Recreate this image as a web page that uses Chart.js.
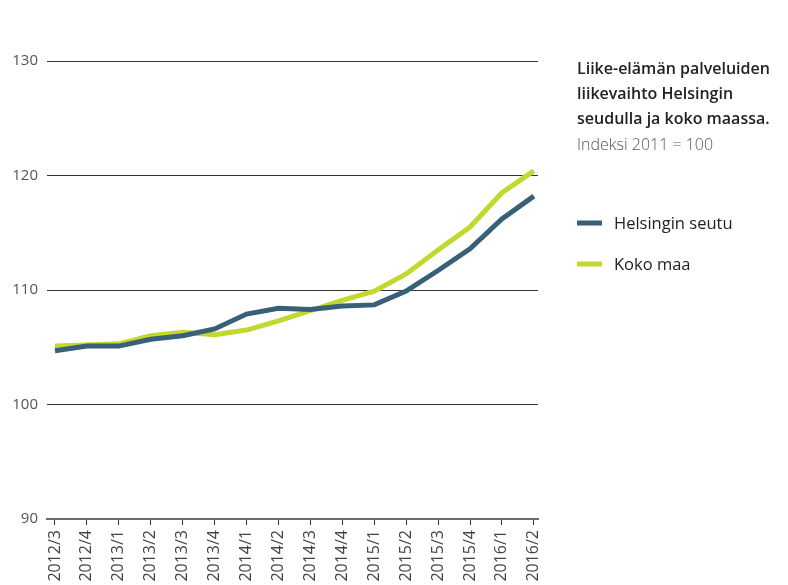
<!DOCTYPE html>
<html>
<head>
<meta charset="utf-8">
<script src="https://cdn.jsdelivr.net/npm/chart.js@4"></script>
<style>
  html, body { margin: 0; padding: 0; background: #fff; }
  #wrap { width: 788px; height: 585px; }
</style>
</head>
<body>
<div id="wrap"><canvas id="chart" width="788" height="585"></canvas></div>
<script>
const quarters = ["2012/3", "2012/4", "2013/1", "2013/2", "2013/3", "2013/4", "2014/1", "2014/2",
  "2014/3", "2014/4", "2015/1", "2015/2", "2015/3", "2015/4", "2016/1", "2016/2"];
const helsinginSeutu = [104.7, 105.1, 105.1, 105.7, 106.0, 106.6, 107.9, 108.4,
  108.3, 108.6, 108.7, 109.9, 111.7, 113.6, 116.2, 118.2];
const kokoMaa = [105.1, 105.2, 105.3, 106.0, 106.3, 106.1, 106.5, 107.3,
  108.2, 109.1, 109.9, 111.4, 113.5, 115.5, 118.5, 120.4];
const yTicks = [90, 100, 110, 120, 130];
const titleLines = ["Liike-elämän palveluiden", "liikevaihto Helsingin", "seudulla ja koko maassa."];
const subtitle = "Indeksi 2011 = 100";

const toPoints = (arr) => arr.map((v, i) => ({ x: i, y: v }));

const sidePanel = {
  id: "sidePanel",
  afterDraw(chart) {
    const ctx = chart.ctx;
    ctx.save();
    ctx.textBaseline = "middle";
    ctx.textAlign = "left";
    ctx.fillStyle = "#222";
    ctx.font = "600 16px 'Open Sans'";
    titleLines.forEach((line, i) => ctx.fillText(line, 577, 69 + i * 25));
    ctx.fillStyle = "#555";
    ctx.font = "300 16px 'Open Sans'";
    ctx.fillText(subtitle, 577, 145);

    chart.data.datasets.forEach((ds, i) => {
      const y = 223 + i * 41;
      ctx.fillStyle = ds.borderColor;
      ctx.fillRect(577, y - 2.5, 25, 5);
      ctx.fillStyle = "#222";
      ctx.font = "400 16.5px 'Open Sans'";
      ctx.fillText(ds.label, 614, y + 1);
    });
    ctx.restore();
  },
};

new Chart(document.getElementById("chart"), {
  type: "line",
  data: {
    datasets: [
      {
        label: "Helsingin seutu",
        data: toPoints(helsinginSeutu),
        borderColor: "#386079",
        borderWidth: 5,
        pointRadius: 0,
        tension: 0,
      },
      {
        label: "Koko maa",
        data: toPoints(kokoMaa),
        borderColor: "#c3d82e",
        borderWidth: 5,
        pointRadius: 0,
        tension: 0,
      },
    ],
  },
  options: {
    responsive: false,
    animation: false,
    layout: { padding: { top: 61, right: 250, left: 0, bottom: 0 } },
    plugins: {
      legend: { display: false },
      tooltip: { enabled: false },
    },
    scales: {
      x: {
        type: "linear",
        min: -0.25,
        max: quarters.length - 0.87,
        afterFit(scale) { scale.height = 66; },
        border: { display: true, color: "#6a6a6a", width: 2 },
        grid: { drawOnChartArea: false, drawTicks: true, tickLength: 6, color: "#333" },
        ticks: {
          stepSize: 1,
          includeBounds: false,
          autoSkip: false,
          maxRotation: 90,
          minRotation: 90,
          padding: 5,
          color: "#444",
          font: { family: "Open Sans", size: 16, weight: "400" },
          callback: (v) => (Number.isInteger(v) ? quarters[v] : ""),
        },
      },
      y: {
        min: yTicks[0],
        max: yTicks[yTicks.length - 1],
        afterFit(scale) { scale.width = 47; },
        afterBuildTicks(scale) { scale.ticks = yTicks.map((v) => ({ value: v })); },
        border: { display: false },
        grid: { drawTicks: false, color: "#333", lineWidth: 1 },
        ticks: {
          padding: 9,
          color: "#555",
          font: { family: "Open Sans", size: 15, weight: "400" },
        },
      },
    },
  },
  plugins: [sidePanel],
});
</script>
</body>
</html>
